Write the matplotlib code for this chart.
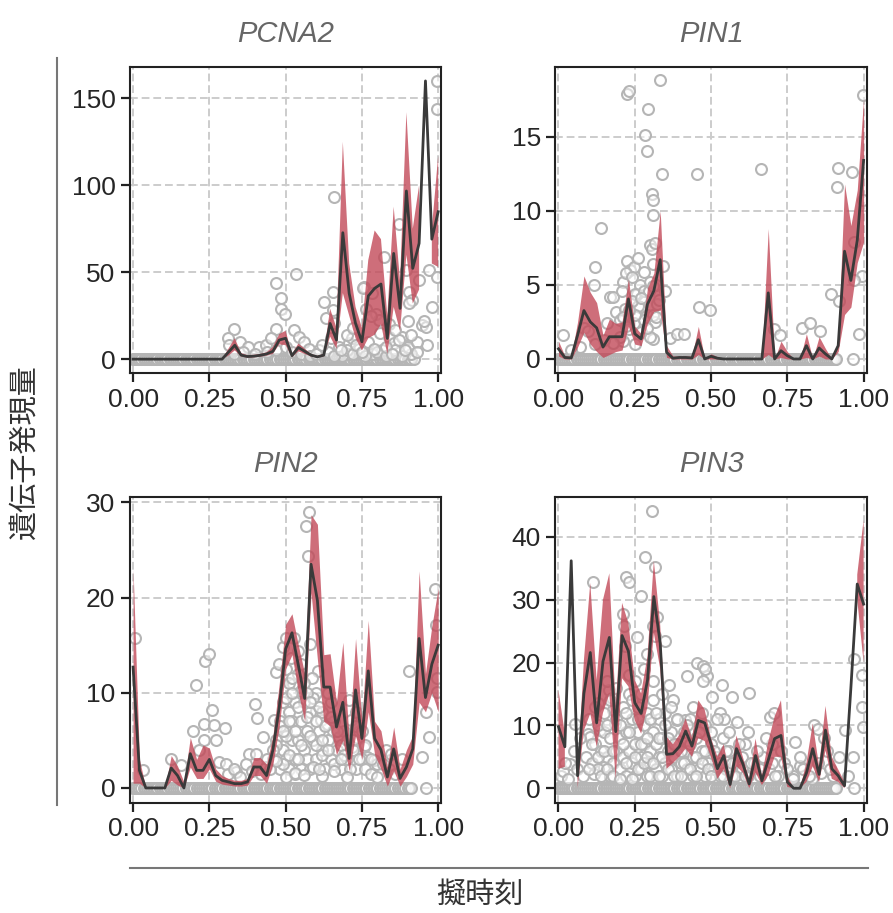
import numpy as np
import matplotlib.pyplot as plt
from matplotlib.lines import Line2D

nan = np.nan

genes = ['PCNA2', 'PIN1', 'PIN2', 'PIN3']
# 49 pseudotime bins between 0 and 1
pt_grid = np.linspace(0, 1, 49)

# binned mean expression (black line) and its band (red)
pcna2_mean = [0] * 15 + [4, 8, 2.3, 1.5, 1.7, 2.2, 3, 4.5, 11, 12, 2, 6.7, 4.5, 2.3, 1.3, 2.3,
                         20.5, 11, 72.7, 37.8, 20.5, 10, 36.3, 40.7, 43.2, 11.9, 60.8, 29.2, 96.7,
                         52.2, 66.6, 160, 69, 84.8]
pcna2_hi = [0] * 15 + [6, 12, 3.5, 2.3, 2.5, 3, 4, 7, 14.4, 16.3, 3, 9, 6, 3, 2, 3,
                       29, 18, 125, 55, 30, 18, 57, 74, 69, 25, 87.7, 45, 142,
                       75, 100, nan, 75, 117]
pcna2_lo = [0] * 15 + [2, 5, 1.5, 0.8, 1, 1.4, 2, 3, 8.5, 8, 1, 4.5, 3, 1.5, 0.8, 1.5,
                       13, 6, 38, 25, 12, 5, 12, 14, 20, 3, 30, 16, 60,
                       32, 40, nan, 55, 53]

pin1_mean = [0.68, 0.1, 0.07, 1.6, 3.27, 2.5, 2.1, 0.8, 1.5, 1.5, 1.5, 4.05, 1.7, 1.35, 3.7,
             4.6, 6.7, 0.45, 0.05, 0.1, 0.1, 0.07, 1.3, 0, 0.18, 0.05, 0, 0, 0, 0, 0, 0, 0,
             4.46, 0, 0.56, 0.22, 0, 0, 0.9, 0, 0.74, 0.34, 0, 0.9, 7.27, 5.3, 8, 13.4]
pin1_hi = [1.2, 0.2, 0.2, 2.5, 5.6, 4.5, 3.8, 1.6, 2.7, 2.4, 2.5, 5.4, 2.2, 1.7, 4.8,
           5.8, 10, 0.9, 0.2, 0.2, 0.2, 0.2, 2.2, 0, 0.35, 0.15, 0, 0, 0, 0, 0, 0, 0,
           8.8, 0, 1.2, 0.5, 0, 0, 1.7, 0, 1.5, 0.7, 0, 1.2, 11.8, 9, 11.4, 17.6]
pin1_lo = [0.2, 0, 0, 0.8, 1.8, 1.0, 0.5, 0.1, 0.3, 0.5, 0.6, 2.2, 1.0, 0.9, 2.4,
           3.2, 3.3, 0.1, 0, 0, 0, 0, 0.3, 0, 0, 0, 0, 0, 0, 0, 0, 0, 0,
           0.3, 0, 0.1, 0, 0, 0, 0.1, 0, 0.2, 0, 0, 0.5, 3, 3.5, 6.5, 7.9]

pin2_mean = [12.7, 1.85, 0, 0, 0, 0, 2.1, 1.3, 0, 3.6, 1.85, 1.85, 3, 1.3, 0.8, 0.63, 0.45,
             0.45, 0.63, 2.2, 2.2, 1.3, 4, 8.5, 14.6, 16.3, 12.9, 9.4, 23.5, 19.7, 10.6,
             10.6, 6.4, 9, 3.1, 10.3, 5.2, 12.3, 5.2, 4, 1.15, 4.1, 1, 2.2, 4.1, 15.7, 9.5,
             13, 15]
pin2_hi = [23, 3, 0, 0, 0, 0, 3.4, 2.3, 0.6, 5.3, 3, 4.5, 4.2, 2, 1.3, 1, 0.8,
           0.8, 1, 3.2, 3.2, 2.5, 5.5, 11, 17.2, 18.3, 15, 12, 28.7, 27.7, 14,
           14.1, 9, 15.3, 5, 15.7, 7, 17.6, 7, 6, 2.2, 6.4, 2, 4, 5.5, 22.8, 12,
           17, 21]
pin2_lo = [0.5, 0.5, 0, 0, 0, 0, 0.8, 0.3, 0, 2.2, 1, 1, 2, 0.7, 0.4, 0.3, 0.2,
           0.2, 0.3, 1.3, 1.3, 0.5, 2.5, 6.5, 12.5, 14, 10, 7, 20.5, 13.5, 7,
           6.5, 3.5, 5, 1.8, 5.5, 3, 8, 3.5, 2, 0.2, 1.8, 0.2, 1.2, 2.5, 9, 8,
           10, 8]

pin3_mean = [9.8, 6.6, 36.2, 2, 15.1, 21.6, 10.4, 20.2, 24, 9, 24.3, 21.8, 13.6, 11.9, 17.2,
             30.5, 23.1, 5.4, 5.5, 6.6, 9.1, 6.7, 10.8, 10.4, 7, 3.1, 5.2, 0.6, 6.3, 3.9, 0.7,
             5.2, 1.2, 4.5, 7.9, 8.4, 1, 0, 0, 2.4, 6.3, 2.2, 9.25, 3.1, 2, 0.4, 16, 32.5, 29.3]
pin3_hi = [15.6, 8.7, nan, 2.5, 20.4, 32.7, 17.2, 30, 34.2, 13, 29.5, 26.3, 17.2, 15.1, 21,
           36.2, 26, 8.2, 7, 8.5, 11.1, 8, 14, 12.5, 8, 5, 7, 1.5, 8.4, 5, 1.5,
           7.9, 2, 7.4, 11.4, 14, 2, 0, 0, 4, 10.3, 3.5, 13.1, 5, 3, 1, nan, 34, 42.7]
pin3_lo = [3.1, 3.4, nan, 0, 9.2, 11.9, 6.6, 12, 15, 1.5, 17.5, 16.2, 10.8, 8.7, 13,
           24.7, 19, 3.1, 4, 5, 6.3, 5, 8, 7.5, 5, 1.5, 3, 0, 3.5, 2.5, 0,
           2.5, 0.5, 2, 5, 5, 0.2, 0, 0, 1, 3.5, 1, 6, 1.5, 1, 0, nan, 30, 20]

# cells with zero counts (shared dense band) plus a few late zero cells per gene
zero_band_x = [0.0, 0.005, 0.01, 0.015, 0.02, 0.027, 0.035, 0.04, 0.045, 0.052, 0.06, 0.065,
               0.07, 0.075, 0.08, 0.088, 0.095, 0.1, 0.105, 0.112, 0.12, 0.125, 0.13, 0.135,
               0.14, 0.148, 0.155, 0.16, 0.165, 0.172, 0.18, 0.185, 0.19, 0.195, 0.2, 0.208,
               0.215, 0.22, 0.225, 0.232, 0.24, 0.245, 0.25, 0.255, 0.26, 0.268, 0.275, 0.28,
               0.285, 0.292, 0.3, 0.305, 0.31, 0.315, 0.32, 0.328, 0.335, 0.34, 0.345, 0.352,
               0.36, 0.365, 0.37, 0.375, 0.38, 0.388, 0.395, 0.4, 0.405, 0.412, 0.42, 0.425,
               0.43, 0.435, 0.44, 0.448, 0.455, 0.46, 0.465, 0.472, 0.48, 0.485, 0.49, 0.495,
               0.5, 0.508, 0.515, 0.52, 0.525, 0.532, 0.54, 0.545, 0.55, 0.555, 0.56, 0.568,
               0.575, 0.58, 0.585, 0.592, 0.6, 0.605, 0.61, 0.615, 0.62, 0.628, 0.635, 0.64,
               0.645, 0.652, 0.66, 0.665, 0.67, 0.675, 0.68, 0.688, 0.695, 0.7, 0.705, 0.712,
               0.72, 0.725, 0.73, 0.735, 0.74, 0.748, 0.755, 0.76, 0.765, 0.772, 0.78, 0.785,
               0.79, 0.795, 0.8, 0.808, 0.815, 0.82, 0.825, 0.832, 0.84, 0.845, 0.85, 0.855,
               0.86, 0.868, 0.875, 0.88, 0.885, 0.892, 0.9, 0.905, 0.91]
pcna2_zero_extra = [0.92]
pin1_zero_extra = [0.965]
pin2_zero_extra = [0.96]
pin3_zero_extra = [0.967]

pcna2_pts_x = [.332, .31, .316, .349, .376, .414, .436, .468, .485, .485, .498, .534, .468, .452,
               .528, .545, .561, .577, .61, .626, .659, .632, .654, .654, .659, .675, .708, .719,
               .757, .763, .784, .795, .806, .822, .839, .855, .871, .893, .904, .915, .937, .948,
               .959, .964, .969, .98, .997, .997, .997, .86, .882, .904, .91, .817, .784, .74,
               .708, .686, .33, .36, .40, .44, .47, .50, .52, .55, .58, .60, .64, .66, .70, .72,
               .76, .80, .83, .88, .90, .93, .955, .752, .905]
pcna2_pts_y = [17.6, 12, 8, 10, 7, 6.7, 8, 43.5, 35, 29, 26, 49, 17.6, 12,
               16.7, 12.9, 10, 6, 5, 33, 93.4, 23.4, 38.7, 28, 20.5, 7, 9, 12,
               41.6, 29, 37.8, 26, 22.4, 59, 12.9, 9, 78, 51, 38.7, 34, 45.5, 19.6,
               18.6, 8, 51, 30, 47, 160, 144, 5, 12.9, 6, 3, 5, 3, 6,
               3, 2, 3, 4, 3, 4, 5, 7, 4, 3, 2, 3, 4, 2, 5, 3,
               2, 4, 2, 2, 7, 10, 22, 40.7, 32]
pcna2_cloud = [(.62, 8), (.65, 12), (.68, 5), (.70, 14), (.73, 8), (.75, 4), (.77, 10),
               (.79, 6), (.81, 15), (.83, 7), (.85, 3), (.87, 11), (.89, 5), (.91, 14),
               (.93, 4), (.72, 18), (.78, 25), (.84, 20), (.86, 17), (.90, 22)]

pin1_pts_x = [.014, .12, .139, .115, .169, .18, .213, .19, .224, .23, .226, .233, .246, .257,
              .268, .284, .29, .292, .3, .305, .308, .311, .311, .311, .317, .333, .339, .344,
              .35, .322, .317, .311, .29, .268, .246, .219, .208, .202, .251, .279, .295, .311,
              .366, .388, .41, .454, .459, .497, .663, .705, .725, .798, .823, .858, .894, .913,
              .916, .962, .918, .984, .995, .998, .998, .967, .97, .082, .098, .158,
              .21, .23, .25, .27, .28, .30, .32, .33, .26, .24, .22, .20, .18, .15, .12, .07, .04]
pin1_pts_y = [1.64, 6.2, 8.85, 5, 4.2, 4.2, 5.2, 3.15, 17.9, 18.1, 6.6, 6, 6.2, 4.4,
              5, 15.1, 14, 16.9, 7.7, 7.4, 11.1, 10.7, 9.7, 6.4, 7.8, 18.8, 12.5, 6.3,
              4.6, 3.7, 2.5, 1.35, 3, 3.5, 2.4, 3.4, 4.6, 2.6, 4.4, 4.6, 4.6, 3,
              1.4, 1.7, 1.7, 12.5, 3.5, 3.3, 12.8, 2, 1.6, 2.1, 2.4, 1.9, 4.4, 11.6,
              12.9, 12.6, 3.9, 1.7, 5.6, 17.8, 10.7, 7.9, 5.3, 2.1, 1.9, 2.4,
              1.2, 2, 1, 1.8, 2.6, 1.5, 5, 4, 3.6, 3.9, 2.2, 1.5, 1.1, 1.3, 1, 0.8, 0.6]
pin1_cloud = [(.22, 5.8), (.24, 5.5), (.26, 6.8), (.28, 5.9), (.3, 5.2), (.27, 4.1),
              (.29, 2.1), (.31, 4.9), (.25, 3), (.23, 3.3), (.21, 2.8), (.32, 2.8)]

pin2_pts_x = [.005, .033, .125, .158, .205, .196, .237, .25, .234, .264, .3, .234, .272, .259,
              .216, .283, .305, .338, .381, .398, .405, .425, .403, .436, .463, .469, .479, .49,
              .501, .517, .528, .539, .566, .577, .572, .58, .605, .588, .523, .55, .599, .615,
              .637, .654, .675, .708, .714, .719, .741, .757, .768, .79, .828, .847, .904, .946,
              .959, .969, .991, .993, .997, .997,
              .46, .47, .48, .48, .49, .49, .50, .50, .51, .51, .51, .52, .52, .53, .53, .54,
              .54, .55, .55, .56, .56, .57, .57, .58, .58, .59, .60, .60, .61, .62, .62, .63,
              .64, .65, .66, .67, .68, .69, .70, .72, .73, .75, .76, .78, .80, .84, .86, .88,
              .31, .33, .35, .37, .39, .42, .44]
pin2_pts_y = [15.8, 1.85, 3, 2.4, 10.8, 6, 13.3, 14.1, 6.7, 6.6, 6.3, 5, 5, 8.2,
              4, 2.7, 2.55, 1.7, 3.6, 8.85, 7.3, 5.35, 3.6, 2.2, 7.1, 12.2, 13, 14.8,
              15.8, 13.7, 15.8, 14.4, 27.5, 29, 24.4, 15.1, 12.3, 11.6, 10.9, 10.2, 8.1, 7.1,
              6.7, 6, 5.35, 9.2, 7.1, 4.3, 6, 4.3, 3.25, 2.9, 3.95, 3.6, 12.3, 3.25,
              8, 5.35, 20.9, 17.1, 11.6, 10.1,
              3, 5, 7, 2, 4, 9, 6, 3, 8, 11, 2, 5, 7, 3, 9, 5,
              12, 2, 7, 4, 9, 6, 3, 8, 2, 5, 3, 10, 6, 4, 8, 2,
              5, 3, 7, 4, 2, 6, 3, 5, 2, 3, 2, 1.5, 2.5, 2, 1.5, 3,
              1.5, 2, 1.2, 2.5, 1.8, 1.5, 3]
pin2_cloud = [(.47, 4.5), (.48, 6.5), (.49, 2.5), (.50, 9.5), (.50, 5.5), (.51, 3.5),
              (.52, 10), (.53, 6), (.53, 1.5), (.54, 8.5), (.55, 4.5), (.56, 11),
              (.57, 7.5), (.58, 5.5), (.59, 9.5), (.60, 4.5), (.61, 8.5), (.62, 3.5),
              (.63, 6.5), (.64, 4), (.65, 7.5), (.66, 2.5), (.67, 6), (.68, 4.5),
              (.69, 3.5), (.70, 5), (.71, 2), (.72, 4), (.73, 6.5), (.74, 3),
              (.45, 2), (.46, 4), (.50, 12.5), (.52, 11.5), (.55, 13), (.57, 10),
              (.60, 7), (.62, 5), (.65, 9), (.68, 3), (.50, 1.2), (.53, 1.6),
              (.56, 1.4), (.59, 2.2), (.62, 1.3), (.66, 1.8), (.70, 1.1), (.47, 2.8),
              (.49, 6), (.51, 7), (.54, 3), (.58, 9), (.61, 2), (.64, 10),
              (.76, 4.5), (.78, 3), (.80, 1.2), (.82, 2.5), (.73, 8), (.75, 6)]

pin3_pts_x = [.308, .284, .222, .23, .113, .317, .27, .322, .311, .317, .35, .21, .215, .257,
              .218, .29, .361, .375, .42, .454, .475, .486, .473, .503, .53, .536, .568, .623,
              .541, .585, .388, .415, .48, .694, .705, .776, .792, .836, .852, .94, .967, .995,
              .995, .998, .965, .008, .014, .038, .055, .098, .104, .131, .164, .158, .175, .18,
              .186, .137, .115, .148, .169,
              .09, .11, .12, .13, .14, .15, .16, .17, .17, .18, .19, .19, .20, .20, .21, .21,
              .22, .22, .23, .23, .24, .24, .25, .25, .26, .26, .27, .27, .28, .28, .29, .29,
              .30, .30, .31, .31, .32, .32, .33, .33, .34, .34, .35, .35, .36, .37, .37, .38,
              .39, .39, .40, .41, .42, .42, .43, .44, .44, .45, .46, .47, .48, .48, .49, .50,
              .51, .52, .53, .54, .55, .56, .57, .58, .60, .61, .62, .64, .66, .67, .69, .70,
              .72, .74, .77, .80, .83, .86, .88, .90]
pin3_pts_y = [44.1, 36.8, 33.6, 32.8, 32.9, 35.2, 30.6, 27.2, 25.8, 24.2, 23.4, 27.7, 25.8, 24,
              22.6, 21.3, 16.4, 14, 17.8, 19.9, 19.4, 17.8, 17, 14.6, 11.9, 16.5, 14.6, 15.1,
              11.1, 10.6, 10.8, 10.8, 18.9, 11.4, 12, 7.4, 3.6, 10, 9.5, 9.25, 20.5, 18,
              13, 9.8, 5, 2, 2.8, 3.9, 10.3, 8.7, 8.2, 13.5, 15.7, 17, 14.3, 12.5,
              10.3, 9.3, 2.3, 3.4, 1.8,
              5, 4, 7, 3, 6, 9, 5, 2, 8, 4, 11, 6, 3, 8, 5, 13,
              2, 9, 6, 15, 4, 11, 7, 2, 9, 13, 5, 3, 10, 7, 2, 12,
              6, 4, 9, 14, 3, 7, 11, 5, 2, 8, 4, 12, 6, 3, 9, 5,
              2, 7, 4, 9, 3, 6, 11, 2, 5, 8, 3, 6, 2, 10, 4, 7,
              3, 5, 2, 8, 3, 6, 2, 4, 3, 7, 2, 4, 2, 5, 3, 7,
              2, 4, 2, 3, 1.5, 2.5, 6, 2]
pin3_cloud = [(.02, 4), (.03, 1.5), (.05, 6), (.06, 3), (.07, 8), (.08, 2), (.10, 11),
              (.10, 3), (.11, 7), (.12, 13), (.13, 5), (.13, 10), (.14, 2), (.15, 12),
              (.15, 6), (.16, 3), (.16, 10), (.17, 14), (.18, 6), (.18, 2), (.19, 16),
              (.20, 10), (.20, 1.5), (.21, 7), (.22, 12), (.22, 4), (.23, 18), (.23, 9),
              (.24, 1.5), (.24, 14), (.25, 5), (.25, 17), (.26, 3), (.26, 11), (.27, 7),
              (.27, 15), (.28, 4), (.28, 19), (.29, 8), (.29, 5), (.30, 11), (.30, 2),
              (.31, 17), (.31, 4), (.32, 12), (.33, 8), (.33, 2), (.34, 15), (.34, 5),
              (.35, 10), (.36, 3), (.36, 8), (.37, 13), (.38, 2), (.38, 7), (.39, 11),
              (.40, 6), (.40, 2), (.41, 4), (.42, 10), (.43, 7), (.43, 3), (.44, 13),
              (.45, 5), (.45, 2), (.46, 9), (.47, 4), (.47, 12), (.48, 6), (.49, 3),
              (.50, 9), (.50, 2), (.51, 6), (.52, 11), (.53, 4), (.54, 2), (.55, 6),
              (.56, 9), (.57, 4), (.58, 2), (.59, 7), (.60, 5), (.61, 2), (.62, 9),
              (.63, 4), (.65, 6), (.66, 3), (.68, 8), (.70, 4), (.71, 2), (.73, 6),
              (.75, 3), (.77, 1.5), (.79, 5), (.82, 2), (.85, 4), (.87, 8), (.89, 3),
              (.92, 5), (.95, 2)]

panel_ylims = [(-8, 168), (-0.95, 19.7), (-1.55, 30.6), (-2.3, 46.4)]
panel_yticks = [[0, 50, 100, 150], [0, 5, 10, 15], [0, 10, 20, 30], [0, 10, 20, 30, 40]]

means = [pcna2_mean, pin1_mean, pin2_mean, pin3_mean]
his = [pcna2_hi, pin1_hi, pin2_hi, pin3_hi]
los = [pcna2_lo, pin1_lo, pin2_lo, pin3_lo]
pts_x = [pcna2_pts_x, pin1_pts_x, pin2_pts_x, pin3_pts_x]
pts_y = [pcna2_pts_y, pin1_pts_y, pin2_pts_y, pin3_pts_y]
clouds = [pcna2_cloud, pin1_cloud, pin2_cloud, pin3_cloud]
zero_extra = [pcna2_zero_extra, pin1_zero_extra, pin2_zero_extra, pin3_zero_extra]

plt.rcParams['font.family'] = ['Liberation Sans', 'Noto Sans CJK JP']

fig, axes = plt.subplots(2, 2, figsize=(8.93, 9.13), dpi=100)
fig.subplots_adjust(left=0.1456, right=0.9705, bottom=0.1208, top=0.9266,
                    wspace=0.367, hspace=0.404)

for k, ax in enumerate(axes.flat):
    zx = zero_band_x + zero_extra[k]
    cx = [p[0] for p in clouds[k]]
    cy = [p[1] for p in clouds[k]]
    sx = list(zx) + pts_x[k] + cx
    sy = [0] * len(zx) + pts_y[k] + cy
    ax.scatter(sx, sy, s=62, facecolor=(1, 1, 1, 0.5), edgecolor='#b5b5b5',
               linewidth=1.5, zorder=2)
    ax.fill_between(pt_grid, np.array(los[k], float), np.array(his[k], float),
                    color='#c24a59', alpha=0.8, linewidth=0, zorder=3)
    ax.plot(pt_grid, means[k], color='#3a3a3a', lw=2.0, zorder=4)

    ax.set_xlim(-0.01, 1.01)
    ax.set_ylim(*panel_ylims[k])
    ax.set_xticks([0, 0.25, 0.5, 0.75, 1.0])
    ax.set_xticklabels(['0.00', '0.25', '0.50', '0.75', '1.00'])
    ax.set_yticks(panel_yticks[k])
    ax.grid(True, color='#cccccc', linestyle=(0, (4, 2)), linewidth=1.4, zorder=0)
    ax.set_axisbelow(True)
    for sp in ax.spines.values():
        sp.set_linewidth(1.5)
        sp.set_color('#222222')
    ax.tick_params(labelsize=19, length=6.5, width=1.6, color='#222222',
                   labelcolor='#262626', pad=4)
    ax.set_title(genes[k], style='italic', color='#666666', fontsize=21, pad=18)

# outer axis guides and shared labels
fig.add_artist(Line2D([0.0638, 0.0638], [0.118, 0.936], color='#777777', lw=1.5))
fig.add_artist(Line2D([0.1456, 0.972], [0.0493, 0.0493], color='#777777', lw=1.5))
fig.text(0.028, 0.505, '遺伝子発現量', rotation=90, ha='center', va='center',
         fontsize=21, color='#333333')
fig.text(0.537, 0.0197, '擬時刻', ha='center', va='center', fontsize=21, color='#333333')

fig.savefig('out.png', dpi=100)
